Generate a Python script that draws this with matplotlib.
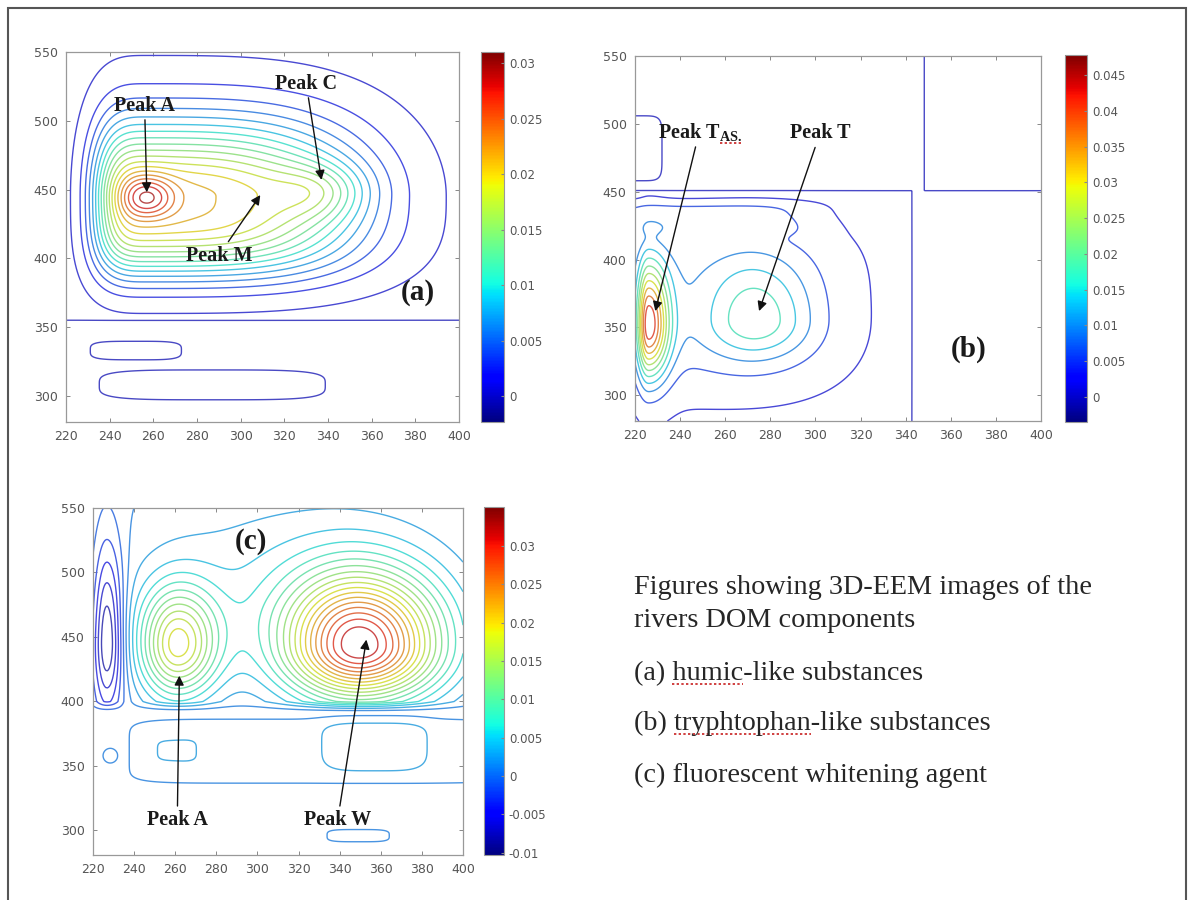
import numpy as np
import matplotlib.pyplot as plt
from matplotlib import cm, colors
from matplotlib.patches import Rectangle
from matplotlib.lines import Line2D

# ---- data: EEM components modelled as peaks ----
# each peak: ex0, em0, wex_lo, wex_hi, wem_lo, wem_hi, amplitude,
#            power_left, power_right, power_down, power_up
a_upper_peaks = [
    (257, 445, 23.7, 93, 55.5, 54, 0.022, 3.3, 3.3, 3, 2),   # broad humic body
    (257, 444, 12, 12, 14, 16, 0.008, 2, 2, 2, 2),           # Peak A
    (337, 448, 20, 20, 20, 20, 0.005, 2, 2, 2, 2),           # Peak C shoulder
]
a_lower_blobs = [
    (252, 333, 25, 25, 8, 8, 0.0013, 4, 4, 4, 4),
    (287, 308, 62, 62, 13, 13, 0.0013, 4, 4, 4, 4),
]
a_cut_em = 355
a_lower_base = -0.0008

b_lowleft_peaks = [
    (226, 352, 5, 9, 38, 45, 0.038, 2, 2, 2, 2),        # Peak T_AS
    (274, 355, 22, 24, 28, 45, 0.014, 2, 2, 2, 2),      # Peak T
    (245, 370, 40, 61, 63, 55, 0.007, 3, 3, 3, 3),      # broad base
    (255, 432, 60, 42, 14, 10, 0.005, 4, 4, 4, 4),      # band under 450
]
b_upleft_blobs = [
    (220, 482, 12, 12, 24, 24, 0.0008, 6, 6, 6, 6),
]
b_cut_em = 451
b_cut_ex_low = 343
b_cut_ex_high = 348
b_base_lowleft = 0.0006
b_base_upright = 0.0006

c_upper_peaks = [
    (350, 442, 36, 38, 40, 56, 0.031, 2, 2, 2, 2),      # Peak W
    (261, 443, 18, 20, 40, 45, 0.018, 2, 2, 2, 2),      # Peak A
    (310, 480, 80, 90, 60, 90, 0.004, 2, 2, 2, 2),      # diffuse background
    (227, 448, 7, 8, 55, 75, -0.011, 2, 2, 2, 2),       # negative well at left edge
]
c_lower_blobs = [
    (330, 361, 95, 95, 25, 26, 0.002, 8, 8, 8, 8),
    (260, 362, 11, 11, 9, 9, 0.0016, 4, 4, 4, 4),
    (357, 367, 27, 27, 22, 22, 0.0016, 4, 4, 4, 4),
    (228, 358, 3, 3, 5, 5, 0.002, 2, 2, 2, 2),
    (349, 296, 16, 16, 5, 5, 0.002, 4, 4, 4, 4),
]
c_cut_em = 392
c_ramp = 8

ex = np.arange(220, 400.01, 0.5)
em = np.arange(281, 550.01, 0.5)
EX, EM = np.meshgrid(ex, em)


def field(peaks):
    z = np.zeros_like(EX)
    for ex0, em0, wxl, wxh, wyl, wyh, amp, pl, pr, pd, pu in peaks:
        left = EX < ex0
        down = EM < em0
        wx = np.where(left, wxl, wxh)
        wy = np.where(down, wyl, wyh)
        px = np.where(left, pl, pr)
        py = np.where(down, pd, pu)
        z += amp * np.exp(-(np.abs((EX - ex0) / wx) ** px + np.abs((EM - em0) / wy) ** py))
    return z


Za = np.where(EM >= a_cut_em, field(a_upper_peaks), a_lower_base + field(a_lower_blobs))

ll = b_base_lowleft + field(b_lowleft_peaks)
ul = field(b_upleft_blobs)
Zb = np.where(EM < b_cut_em, np.where(EX < b_cut_ex_low, ll, 0.0),
              np.where(EX > b_cut_ex_high, b_base_upright, ul))

ramp = np.clip((EM - c_cut_em) / c_ramp, 0, 1)
Zc = np.where(EM >= c_cut_em, field(c_upper_peaks) * ramp, field(c_lower_blobs))

W, H = 1191, 900
fig = plt.figure(figsize=(W / 100, H / 100), dpi=100)
plt.rcParams['mathtext.fontset'] = 'custom'
plt.rcParams['mathtext.rm'] = 'Liberation Serif:bold'

# muted jet for the contour lines (the screenshot is washed out)
jet = plt.get_cmap('jet')
line_cmap = colors.ListedColormap(0.6 * jet(np.linspace(0, 1, 256))[:, :3] + 0.4 * 0.72)


def px_axes(l, t, r, b):
    return fig.add_axes([l / W, 1 - b / H, (r - l) / W, (b - t) / H])


def style_axes(ax):
    ax.set_xlim(220, 400)
    ax.set_ylim(281, 550)
    ax.set_xticks(np.arange(220, 401, 20))
    ax.set_yticks(np.arange(300, 551, 50))
    ax.tick_params(direction='in', length=3, width=0.7, colors='#888888', pad=6,
                   labelcolor='#555555', labelsize=9, top=True, right=True)
    for s in ax.spines.values():
        s.set_color('#999999')
        s.set_linewidth(0.9)


def panel(box, cbox, Z, levels, vmin, vmax, cticks):
    ax = px_axes(*box)
    norm = colors.Normalize(vmin=vmin, vmax=vmax)
    ax.contour(EX, EM, Z, levels=levels, cmap=line_cmap, norm=norm, linewidths=1.0)
    style_axes(ax)
    cax = px_axes(*cbox)
    cb = fig.colorbar(cm.ScalarMappable(norm=norm, cmap='jet'), cax=cax)
    cb.set_ticks(cticks)
    cb.ax.yaxis.set_major_formatter(plt.FormatStrFormatter('%g'))
    cb.ax.tick_params(direction='in', length=2, colors='#888888', labelcolor='#555555', labelsize=8.5)
    cb.outline.set_edgecolor('#999999')
    return ax


levels_a = [0.0] + list(np.linspace(0.0006, 0.0294, 19))
levels_b = [0.0003] + list(np.arange(0.0015, 0.047, 0.004))
levels_c = list(np.arange(-0.0081, 0.034, 0.0018))

ax_a = panel((66, 52, 459, 422), (481, 52, 504, 422), Za, levels_a, -0.0023, 0.031,
             np.arange(0, 0.0301, 0.005))
ax_b = panel((635, 56, 1041, 421), (1065, 55, 1087, 422), Zb, levels_b, -0.0035, 0.0478,
             np.arange(0, 0.0451, 0.005))
ax_c = panel((93, 508, 463, 855), (484, 507, 504, 855), Zc, levels_c, -0.0103, 0.0351,
             np.arange(-0.01, 0.0301, 0.005))

arrow = dict(arrowstyle='-|>', color='#111111', lw=1.0, mutation_scale=14, shrinkA=1, shrinkB=0)
lab = dict(fontsize=14.5, fontweight='bold', family='Liberation Serif', color='#1a1a1a',
           ha='center', va='center')
big = dict(fontsize=21, fontweight='bold', family='Liberation Serif', color='#1a1a1a',
           ha='center', va='center')

ax_a.annotate('Peak A', xy=(257, 448), xytext=(256, 511), arrowprops=arrow, **lab)
ax_a.annotate('Peak C', xy=(337, 457), xytext=(330, 527), arrowprops=arrow, **lab)
ax_a.annotate('Peak M', xy=(309, 446), xytext=(290, 402), arrowprops=arrow, **lab)
ax_a.text(381, 375, '(a)', **big)

tas = ax_b.text(249, 493, r'Peak T$_{\mathrm{AS.}}$', **lab)
ax_b.annotate('', xy=(229, 362), xytext=(247, 484), arrowprops=arrow)
ax_b.annotate('Peak T', xy=(275, 362), xytext=(302, 493), arrowprops=arrow, **lab)
ax_b.text(368, 334, '(b)', **big)

ax_c.annotate('Peak A', xy=(262, 420), xytext=(261, 308), arrowprops=arrow, **lab)
ax_c.annotate('Peak W', xy=(353, 448), xytext=(339, 308), arrowprops=arrow, **lab)
ax_c.text(297, 524, '(c)', **big)

caption = [
    ('Figures showing 3D-EEM images of the', 587, None),
    ('rivers DOM components', 620, None),
    ('(a) humic-like substances', 673, ('(a) ', 'humic')),
    ('(b) tryphtophan-like substances', 723, ('(b) ', 'tryphtophan')),
    ('(c) fluorescent whitening agent', 775, None),
]
cap_font = dict(fontsize=20.3, family='Liberation Serif', color='#262626')
renderer = fig.canvas.get_renderer()


def text_w(s):
    t = fig.text(0, 0, s, **cap_font)
    w = t.get_window_extent(renderer).width
    t.remove()
    return w


def squiggle(xa, xb, y_px):
    fig.lines.append(Line2D([xa / W, xb / W], [y_px / H, y_px / H], transform=fig.transFigure,
                            color='#d04040', lw=1.4, ls=(0, (1.2, 1.2))))


x0 = 634
for line, y, flag in caption:
    fig.text(x0 / W, 1 - (y + 7) / H, line, va='baseline', ha='left', **cap_font)
    if flag:
        squiggle(x0 + text_w(flag[0]), x0 + text_w(flag[0] + flag[1]), H - (y + 11))

# spell-check mark under the subscript of Peak T_AS
bb = tas.get_window_extent(renderer)
squiggle(bb.x1 - 22, bb.x1, bb.y0 + 1)

fig.patches.append(Rectangle((7.5 / W, -0.02), (1186 - 7.5) / W, (900 - 8) / H + 0.02,
                             transform=fig.transFigure, fill=False, edgecolor='#555555', lw=1.5))

fig.savefig('out.png', dpi=100)
